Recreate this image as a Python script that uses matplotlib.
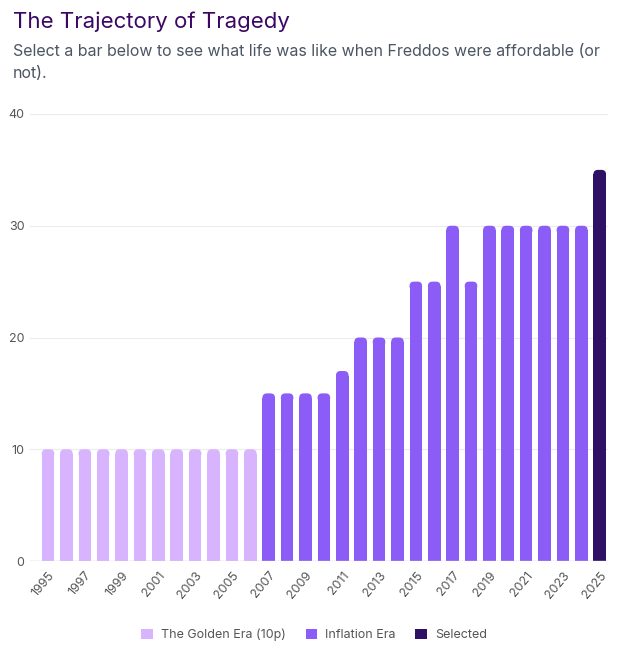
import matplotlib
matplotlib.use("Agg")
import matplotlib.pyplot as plt
from matplotlib.patches import FancyBboxPatch, Patch
import numpy as np

years = list(range(1995, 2026))
prices = [10]*12 + [15, 15, 15, 15, 17, 20, 20, 20, 25, 25, 30, 25, 30, 30, 30, 30, 30, 30, 35]
eras = ["golden"]*12 + ["inflation"]*18 + ["selected"]
era_labels = {"golden": "The Golden Era (10p)", "inflation": "Inflation Era", "selected": "Selected"}
era_colors = {"golden": "#d8b4fe", "inflation": "#8b5cf6", "selected": "#2e1065"}
yticks = [0, 10, 20, 30, 40]

plt.rcParams['font.family'] = ['Inter', 'DejaVu Sans']

W, H = 628, 657
fig = plt.figure(figsize=(W/100, H/100), dpi=100)
ax = fig.add_axes([30/W, (H-561)/H, (608-30)/W, (561-114)/H])

x = np.arange(len(years))
bw = 0.685
bars = ax.bar(x, prices, width=bw, color=[era_colors[e] for e in eras], zorder=3, linewidth=0)
ax.set_xlim(-0.98, len(years) - 1 + 0.45)
ax.set_ylim(0, 40)

# rounded tops
px_x = (608-30) / (len(years) - 1 + 0.45 + 0.98)
px_y = (561-114) / 40
rpx = 4.5
rx = rpx / px_x
ry = rpx / px_y
for rect, e in zip(bars, eras):
    bx, by = rect.get_x(), rect.get_y()
    w, h = rect.get_width(), rect.get_height()
    rect.set_height(h - ry)
    p = FancyBboxPatch((bx, by + h - 2*ry), w, 2*ry,
                       boxstyle=f"round,pad=0,rounding_size={rx}",
                       mutation_aspect=ry/rx, facecolor=era_colors[e],
                       linewidth=0, zorder=3)
    ax.add_patch(p)

for s in ax.spines.values():
    s.set_visible(False)
ax.set_yticks(yticks)
ax.set_yticklabels([str(v) for v in yticks], color="#555555", fontsize=9)
ax.yaxis.grid(True, color="#ececec", linewidth=0.8, zorder=0)
ax.axhline(0, color="#d4d4d4", linewidth=1, zorder=4)
ax.tick_params(axis='y', length=0, pad=4)
ax.set_xticks(x[::2])
ax.set_xticklabels([str(y) for y in years[::2]], rotation=50, ha='right',
                   rotation_mode='anchor', color="#555555", fontsize=9)
ax.tick_params(axis='x', length=0, pad=6)

fig.text(13/W, 1 - 22/H, "The Trajectory of Tragedy", fontsize=16, color="#3b0764",
         va='center', ha='left', fontweight='normal')
fig.text(13/W, 1 - 52/H, "Select a bar below to see what life was like when Freddos were affordable (or",
         fontsize=11.5, color="#4b5563", va='center', ha='left')
fig.text(13/W, 1 - 74/H, "not).", fontsize=11.5, color="#4b5563", va='center', ha='left')

handles = [Patch(facecolor=era_colors[k], edgecolor='none', label=era_labels[k])
           for k in ["golden", "inflation", "selected"]]
leg = fig.legend(handles=handles, loc='center', bbox_to_anchor=(314/W, 1 - 635/H), ncol=3,
                 frameon=False, fontsize=9, handlelength=0.95, handleheight=0.95,
                 handletextpad=0.6, columnspacing=1.6)
for t in leg.get_texts():
    t.set_color("#555555")

fig.savefig("out.png", dpi=100)
